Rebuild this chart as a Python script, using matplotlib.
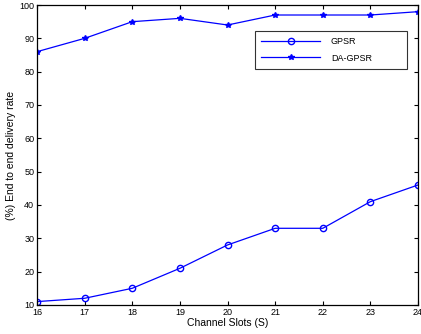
import matplotlib
matplotlib.use("Agg")
import matplotlib.pyplot as plt

plt.rcParams['font.family'] = ['Liberation Sans', 'DejaVu Sans']

slots = [16, 17, 18, 19, 20, 21, 22, 23, 24]
gpsr = [11, 12, 15, 21, 28, 33, 33, 41, 46]
da_gpsr = [86, 90, 95, 96, 94, 97, 97, 97, 98]

fig = plt.figure(figsize=(4.21, 3.34), dpi=100)
ax = fig.add_axes([0.088, 0.087, 0.905, 0.898])

ax.plot(slots, gpsr, '-o', color='blue', markersize=4.5, markerfacecolor='none',
        linewidth=0.9, label='GPSR')
ax.plot(slots, da_gpsr, '-*', color='blue', markersize=4, linewidth=0.9, label='DA-GPSR')

ax.set_xlim(16, 24)
ax.set_ylim(10, 100)
ax.set_xticks(slots)
ax.set_yticks(range(10, 101, 10))
ax.tick_params(direction='in', top=True, right=True, labelsize=6.5, length=3, pad=2)
for s in ax.spines.values():
    s.set_linewidth(0.9)

ax.set_xlabel('Channel Slots (S)', fontsize=7.5, labelpad=1)
ax.set_ylabel('(%) End to end delivery rate', fontsize=7.5, labelpad=2)

leg = ax.legend(loc='upper left', bbox_to_anchor=(0.572, 0.913, 0.399, 0.0),
                mode='expand', borderaxespad=0, fontsize=6.5,
                fancybox=False, edgecolor='black', handlelength=6.5,
                handletextpad=1.2, borderpad=0.7, labelspacing=0.8)
leg.get_frame().set_linewidth(0.8)

fig.savefig('out.png', dpi=100)
